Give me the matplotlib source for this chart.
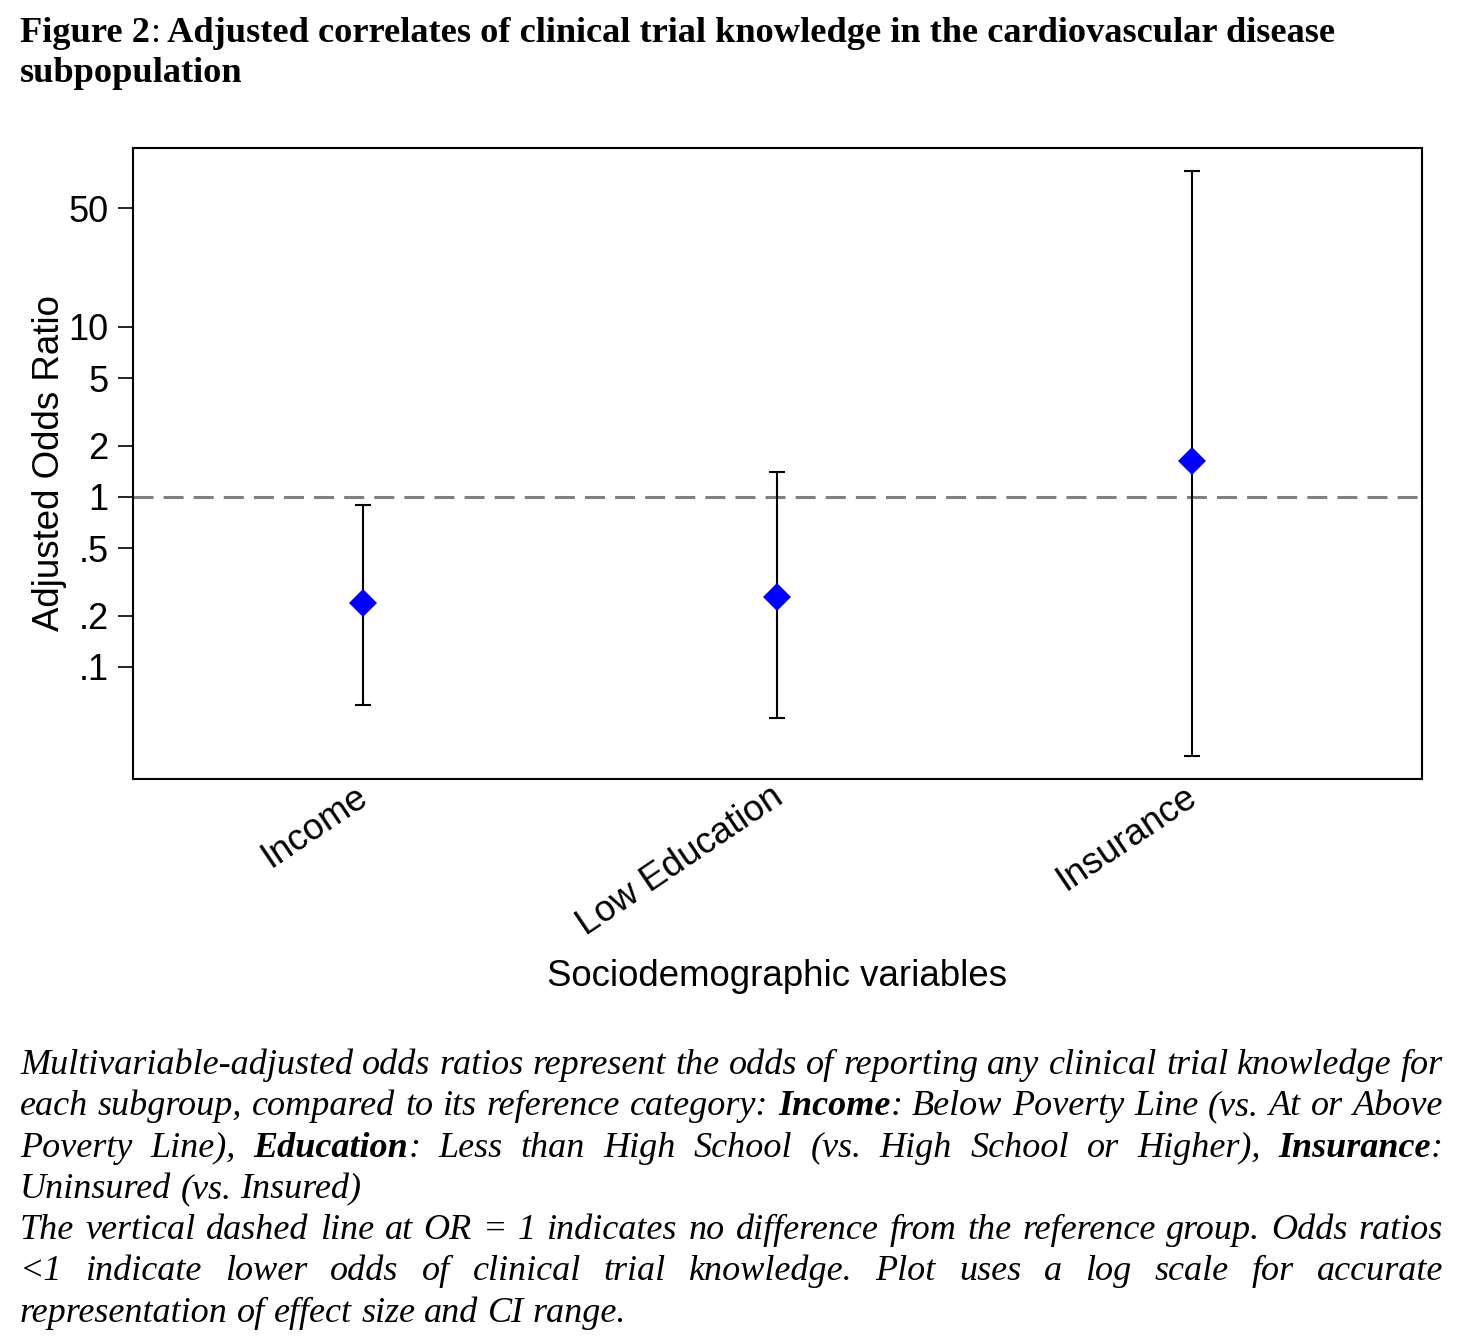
import matplotlib
matplotlib.use("Agg")
import matplotlib.pyplot as plt
from matplotlib.transforms import ScaledTranslation

# ---------------- data ----------------
categories = ["Income", "Low Education", "Insurance"]
odds_ratio = [0.238, 0.258, 1.63]
ci_lower = [0.060, 0.050, 0.030]
ci_upper = [0.90, 1.40, 83.0]
ytick_values = [0.1, 0.2, 0.5, 1, 2, 5, 10, 50]
ytick_labels = [".1", ".2", ".5", "1", "2", "5", "10", "50"]
reference_or = 1.0

title_line1 = [("Figure 2", "bold"), (":", "normal"),
               (" Adjusted correlates of clinical trial knowledge in the cardiovascular disease", "bold")]
title_line2 = [("subpopulation", "bold")]

caption_lines = [
    ("Multivariable-adjusted odds ratios represent the odds of reporting any clinical trial knowledge for", True),
    ("each subgroup, compared to its reference category: **Income**: Below Poverty Line (vs. At or Above", True),
    ("Poverty Line), **Education**: Less than High School (vs. High School or Higher), **Insurance**:", True),
    ("Uninsured (vs. Insured)", False),
    ("The vertical dashed line at OR = 1 indicates no difference from the reference group. Odds ratios", True),
    ("<1 indicate lower odds of clinical trial knowledge. Plot uses a log scale for accurate", True),
    ("representation of effect size and CI range.", False),
]

# ---------------- figure ----------------
W, H = 1476, 1344
fig = plt.figure(figsize=(W / 100, H / 100), dpi=100)
fig.patch.set_facecolor("white")
renderer = fig.canvas.get_renderer()

SANS = "Liberation Sans"
SERIF = "Liberation Serif"

ax = fig.add_axes([133 / W, 1 - 779 / H, (1422 - 133) / W, (779 - 148) / H])
x = list(range(1, len(categories) + 1))
yerr = [[o - l for o, l in zip(odds_ratio, ci_lower)],
        [u - o for o, u in zip(odds_ratio, ci_upper)]]

ax.axhline(reference_or, color="#808080", lw=2.2, linestyle=(0, (6.55, 3.3)), zorder=1)
ax.errorbar(x, odds_ratio, yerr=yerr, fmt="none", ecolor="black", elinewidth=1.5,
            capsize=6, capthick=1.5, zorder=2)
ax.plot(x, odds_ratio, linestyle="none", marker="D", markersize=14.5,
        color="#0000FF", markeredgewidth=0, zorder=3)

ax.set_yscale("log")
ax.set_ylim(0.0219, 113)
ax.set_xlim(0.445, 3.555)
ax.set_yticks(ytick_values)
ax.set_yticklabels(ytick_labels, fontsize=26, family=SANS)
ax.minorticks_off()
ax.tick_params(axis="y", length=10.5, width=1.2, pad=7, direction="out")
ax.set_xticks(x)
ax.set_xticklabels(categories, fontsize=26.4, family=SANS, rotation=34,
                   ha="right", va="top", rotation_mode="anchor")
ax.tick_params(axis="x", length=0, pad=0)
shift = ScaledTranslation(-8 / 100, 0, fig.dpi_scale_trans)
for lab in ax.get_xticklabels():
    lab.set_transform(lab.get_transform() + shift)

for s in ax.spines.values():
    s.set_linewidth(1.5)
    s.set_color("black")

ax.set_ylabel("Adjusted Odds Ratio", fontsize=26.4, family=SANS)
ax.yaxis.set_label_coords(-0.051, 0.5)
ax.set_xlabel("Sociodemographic variables", fontsize=26.4, family=SANS)
ax.xaxis.set_label_coords(0.5, -0.286)


# ---------------- text helpers ----------------
def measure(s, size, weight, style):
    t = fig.text(0, 0, s, fontsize=size, family=SERIF, weight=weight, style=style)
    w = t.get_window_extent(renderer).width
    t.remove()
    return w


def parse_word(word):
    parts = word.split("**")
    return [(p, "bold" if i % 2 else "normal") for i, p in enumerate(parts) if p]


def word_width(word_parts, size, style):
    return sum(measure(p, size, w, style) for p, w in word_parts)


def draw_parts(parts, x0, ybase, size, style):
    xx = x0
    for p, w in parts:
        fig.text(xx / W, 1 - ybase / H, p, fontsize=size, family=SERIF, weight=w,
                 style=style, ha="left", va="baseline", color="black")
        xx += measure(p, size, w, style)
    return xx


# ---------------- title ----------------
base = 20
w20 = sum(measure(p, base, w, "normal") for p, w in title_line1)
tfs = base * (1338 - 20) / w20
draw_parts(title_line1, 20, 42, tfs, "normal")
draw_parts(title_line2, 20, 82, tfs, "normal")

# ---------------- caption (justified) ----------------
left, right = 20, 1443
target = right - left
lines_words = [([parse_word(wd) for wd in line.split(" ")], just) for line, just in caption_lines]
space20 = 0.25 * base * 100 / 72
factors = []
for words, just in lines_words:
    if just:
        nat = sum(word_width(wd, base, "italic") for wd in words) + (len(words) - 1) * space20
        factors.append(target / nat)
cfs = base * min(factors)
space = 0.25 * cfs * 100 / 72

y0, dy = 1074, 41.3
for i, (words, just) in enumerate(lines_words):
    widths = [word_width(wd, cfs, "italic") for wd in words]
    if just and len(words) > 1:
        gap = (target - sum(widths)) / (len(words) - 1)
    else:
        gap = space
    xx = left
    for wd, wdt in zip(words, widths):
        draw_parts(wd, xx, y0 + i * dy, cfs, "italic")
        xx += wdt + gap

fig.savefig("out.png", dpi=100, facecolor="white")
